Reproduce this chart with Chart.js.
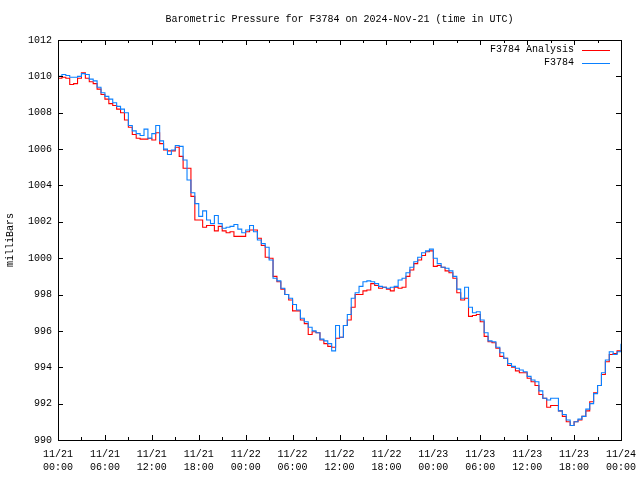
<!DOCTYPE html>
<html>
<head>
<meta charset="utf-8">
<script src="https://cdn.jsdelivr.net/npm/chart.js@4/dist/chart.umd.min.js"></script>
<style>
html,body{margin:0;padding:0;background:#fff;}
#wrap{width:640px;height:480px;}
</style>
</head>
<body>
<div id="wrap"><canvas id="c" width="640" height="480"></canvas></div>
<script>
// Hours since 2024-11-21 00:00 UTC, one reading every 30 minutes
const hours = [];
for (let i = 0; i <= 144; i++) hours.push(i / 2);

const seriesNames = ["F3784 Analysis", "F3784"];

const analysis = [
 1009.9,1009.95,1009.9,1009.55,1009.6,1009.9,1010.2,1009.9,1009.7,1009.6,
 1009.3,1009.0,1008.75,1008.5,1008.4,1008.2,1008.0,1007.6,1007.2,1006.8,
 1006.6,1006.55,1006.55,1006.6,1006.5,1006.9,1006.3,1005.95,1005.9,1005.9,
 1006.1,1005.6,1004.95,1004.95,1003.4,1002.1,1002.1,1001.7,1001.8,1001.8,
 1001.5,1001.75,1001.5,1001.4,1001.45,1001.2,1001.2,1001.2,1001.45,1001.55,
 1001.55,1001.1,1000.7,1000.05,1000.0,999.0,998.7,998.3,998.0,997.7,
 997.1,997.1,996.6,996.4,995.8,995.95,995.9,995.5,995.3,995.15,
 995.1,995.6,995.65,996.3,996.6,997.3,998.0,998.0,998.2,998.25,
 998.6,998.5,998.35,998.4,998.3,998.2,998.4,998.35,998.4,999.0,
 999.35,999.7,999.9,1000.15,1000.35,1000.4,999.55,999.6,999.5,999.3,
 999.2,998.9,998.1,997.7,997.8,996.8,996.85,996.9,996.5,995.7,
 995.4,995.35,995.05,994.6,994.5,994.1,994.0,993.8,993.7,993.7,
 993.4,993.2,993.0,992.5,992.3,991.8,991.9,991.9,991.6,991.3,
 991.0,990.8,991.0,991.1,991.3,991.6,992.1,992.6,993.0,993.6,
 994.3,994.7,994.75,994.9,994.9
];

const station = [
 1010.0,1010.1,1010.05,1009.95,1009.95,1010.0,1010.15,1010.1,1009.85,1009.75,
 1009.4,1009.1,1008.9,1008.75,1008.55,1008.35,1008.2,1008.0,1007.3,1007.0,
 1006.85,1006.75,1007.1,1006.6,1006.85,1007.3,1006.45,1006.0,1005.7,1005.95,
 1006.2,1006.15,1005.4,1004.3,1003.6,1003.0,1002.3,1002.6,1002.1,1001.9,
 1002.35,1001.9,1001.65,1001.7,1001.75,1001.85,1001.6,1001.4,1001.55,1001.8,
 1001.45,1001.0,1000.8,1000.6,999.9,998.9,998.75,998.35,998.0,997.8,
 997.45,997.15,996.7,996.5,996.2,996.0,995.9,995.55,995.45,995.3,
 994.9,996.3,995.65,996.3,996.9,997.8,998.1,998.45,998.7,998.75,
 998.7,998.6,998.45,998.4,998.35,998.4,998.45,998.8,998.9,999.2,
 999.5,999.8,1000.05,1000.3,1000.4,1000.5,1000.0,999.7,999.5,999.45,
 999.3,999.0,998.3,997.8,998.4,997.3,997.0,997.05,996.6,995.9,
 995.45,995.4,995.1,994.8,994.5,994.2,994.05,993.95,993.85,993.75,
 993.5,993.3,993.2,992.7,992.3,992.2,992.3,992.3,991.6,991.4,
 991.1,990.8,991.0,991.15,991.3,991.7,992.0,992.55,993.0,993.7,
 994.4,994.85,994.7,994.85,995.3
];

const xTickDates = ["11/21","11/21","11/21","11/21","11/22","11/22","11/22","11/22","11/23","11/23","11/23","11/23","11/24"];
const xTickTimes = ["00:00","06:00","12:00","18:00","00:00","06:00","12:00","18:00","00:00","06:00","12:00","18:00","00:00"];
const yMin = 990, yMax = 1012, yStep = 2;
const xMin = 0, xMax = 72, xStep = 6, xMinorStep = 3;

const titleText = "Barometric Pressure for F3784 on 2024-Nov-21 (time in UTC)";
const yTitle = "milliBars";
const FONT = "'Liberation Mono', 'DejaVu Sans Mono', monospace";

const toPts = arr => hours.map((h, i) => ({x: h, y: arr[i]}));

// Frame, inward tick marks and in-plot legend
const gnuplotDecor = {
  id: 'gnuplotDecor',
  afterDatasetsDraw(chart) {
    const {ctx, chartArea: a, scales} = chart;
    const xs = scales.x, ys = scales.y;
    ctx.save();
    ctx.strokeStyle = '#000';
    ctx.lineWidth = 1;
    ctx.beginPath();
    for (let v = xMin; v <= xMax; v += xMinorStep) {
      const px = Math.round(xs.getPixelForValue(v)) + 0.5;
      const len = (v % xStep === 0) ? 5 : 3;
      ctx.moveTo(px, a.bottom); ctx.lineTo(px, a.bottom - len);
      ctx.moveTo(px, a.top); ctx.lineTo(px, a.top + len);
    }
    for (let v = yMin; v <= yMax; v += yStep) {
      const py = Math.round(ys.getPixelForValue(v)) + 0.5;
      ctx.moveTo(a.left, py); ctx.lineTo(a.left + 5, py);
      ctx.moveTo(a.right, py); ctx.lineTo(a.right - 5, py);
    }
    ctx.stroke();
    ctx.strokeRect(Math.round(a.left) + 0.5, Math.round(a.top) + 0.5,
                   Math.round(a.right - a.left), Math.round(a.bottom - a.top));

    ctx.font = "10px " + FONT;
    ctx.textAlign = 'right';
    ctx.textBaseline = 'middle';
    const order = [1, 0];
    order.forEach((di, k) => {
      const ds = chart.data.datasets[di];
      const y = a.top + 9.5 + k * 13;
      ctx.fillStyle = '#000';
      ctx.fillText(ds.label, a.right - 47, y);
      ctx.strokeStyle = ds.borderColor;
      ctx.beginPath();
      ctx.moveTo(a.right - 39, Math.round(y) + 0.5);
      ctx.lineTo(a.right - 11, Math.round(y) + 0.5);
      ctx.stroke();
    });
    ctx.restore();
  }
};

new Chart(document.getElementById('c'), {
  type: 'line',
  data: {
    datasets: [
      {label: seriesNames[1], data: toPts(station), borderColor: '#0a80ff', borderWidth: 1.1,
       pointRadius: 0, stepped: true, tension: 0, order: 0},
      {label: seriesNames[0], data: toPts(analysis), borderColor: '#ff0000', borderWidth: 1.1,
       pointRadius: 0, stepped: true, tension: 0, order: 1}
    ]
  },
  options: {
    responsive: false,
    animation: false,
    devicePixelRatio: 1,
    layout: {padding: {left: 0, right: 19, top: 0, bottom: 0}},
    plugins: {
      legend: {display: false},
      tooltip: {enabled: false},
      title: {
        display: true, text: titleText, fullSize: false, color: '#000',
        font: {family: FONT, size: 10, weight: 'normal', lineHeight: 1.2},
        padding: {top: 13, bottom: 15}
      }
    },
    scales: {
      x: {
        type: 'linear', min: xMin, max: xMax,
        grid: {display: false, drawTicks: false},
        border: {display: false},
        ticks: {
          stepSize: xStep, autoSkip: false, maxRotation: 0, color: '#000', padding: 8,
          font: {family: FONT, size: 10, lineHeight: 1.3},
          callback: (v) => {
            const i = Math.round((v - xMin) / xStep);
            return [xTickDates[i], xTickTimes[i]];
          }
        },
        afterFit: s => { s.height = 40; s.paddingLeft = 0; s.paddingRight = 0; }
      },
      y: {
        type: 'linear', min: yMin, max: yMax,
        grid: {display: false, drawTicks: false},
        border: {display: false},
        ticks: {stepSize: yStep, color: '#000', padding: 6,
                font: {family: FONT, size: 10},
                callback: v => String(v)},
        title: {display: true, text: yTitle, color: '#000',
                font: {family: FONT, size: 10}, padding: {top: 4, bottom: 0}},
        afterFit: s => { s.width = 58; s.paddingTop = 0; s.paddingBottom = 0; }
      }
    }
  },
  plugins: [gnuplotDecor]
});
</script>
</body>
</html>
